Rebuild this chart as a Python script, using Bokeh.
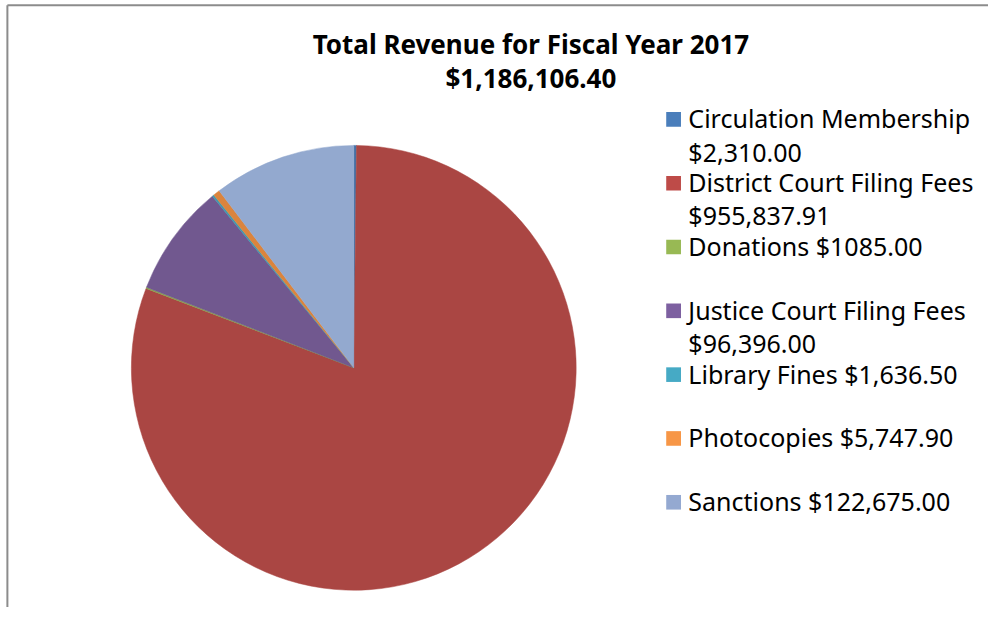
import math
from bokeh.plotting import figure
from bokeh.models import Range1d, ColumnDataSource
from bokeh.core.properties import value
from bokeh.embed import file_html
from bokeh.resources import INLINE

# ---- data ----
categories = ["Circulation Membership", "District Court Filing Fees", "Donations",
              "Justice Court Filing Fees", "Library Fines", "Photocopies", "Sanctions"]
revenue = [2310.00, 955837.91, 1085.00, 96396.00, 1636.50, 5747.90, 122675.00]
legend_lines = [
    ["Circulation Membership", "$2,310.00"],
    ["District Court Filing Fees", "$955,837.91"],
    ["Donations $1085.00"],
    ["Justice Court Filing Fees", "$96,396.00"],
    ["Library Fines $1,636.50"],
    ["Photocopies $5,747.90"],
    ["Sanctions $122,675.00"],
]
title_lines = ["Total Revenue for Fiscal Year 2017", "$1,186,106.40"]

# ---- style ----
pie_colors = ["#4572A7", "#AA4643", "#89A54E", "#71588F", "#4198AF", "#DB843D", "#93A9CF"]
legend_colors = ["#4A7EBB", "#BE4B48", "#98B954", "#7D60A0", "#46AAC5", "#F79646", "#94A9D1"]
FONT = "Noto Sans"

W, H = 988, 607
# data coordinates follow the reference picture: x = ref x, y = 623 - ref y
p = figure(width=W, height=H, output_backend="svg", toolbar_location=None,
           x_range=Range1d(0, 1004), y_range=Range1d(0, 623),
           min_border=0)
p.axis.visible = False
p.grid.visible = False
p.outline_line_color = None
p.background_fill_color = "white"

def Y(py):
    return 623 - py

# frame border (left and top)
p.segment(x0=[7, 7], y0=[Y(5), Y(5)], x1=[7, 1004], y1=[0, Y(5)],
          line_color="#8C8C8C", line_width=2)

# pie
total = sum(revenue)
starts, ends = [], []
acc = 0.0
for v in revenue:
    starts.append(math.pi / 2 - 2 * math.pi * acc / total)
    acc += v
    ends.append(math.pi / 2 - 2 * math.pi * acc / total)
src = ColumnDataSource(dict(start=starts, end=ends, color=pie_colors, cat=categories))
cx, cy, r = 359, Y(377), 226
p.wedge(x=cx, y=cy, radius=r, start_angle="start", end_angle="end", direction="clock",
        fill_color="color", line_color="color", line_width=0.5, source=src)

# title
p.text(x=[539, 539], y=[Y(45), Y(80)], text=title_lines, text_align="center",
       text_baseline="middle", text_font=value(FONT), text_font_style="bold",
       text_font_size="26px", text_color="#000000")

# legend
lx, ly0, step, line_gap, sq = 684, 122, 65.5, 34, 15
sq_x, sq_y, tx, ty, tt = [], [], [], [], []
for i, lines in enumerate(legend_lines):
    yc = ly0 + step * i
    sq_x.append(lx)
    sq_y.append(Y(yc))
    for j, t in enumerate(lines):
        tx.append(699)
        ty.append(Y(yc - 1 + line_gap * j))
        tt.append(t)
p.rect(x=sq_x, y=sq_y, width=sq, height=sq, fill_color=legend_colors, line_color=None)
p.text(x=tx, y=ty, text=tt, text_align="left", text_baseline="middle",
       text_font=value(FONT), text_font_size="25px", text_color="#000000")

open("out.html", "w").write(file_html(p, INLINE))
